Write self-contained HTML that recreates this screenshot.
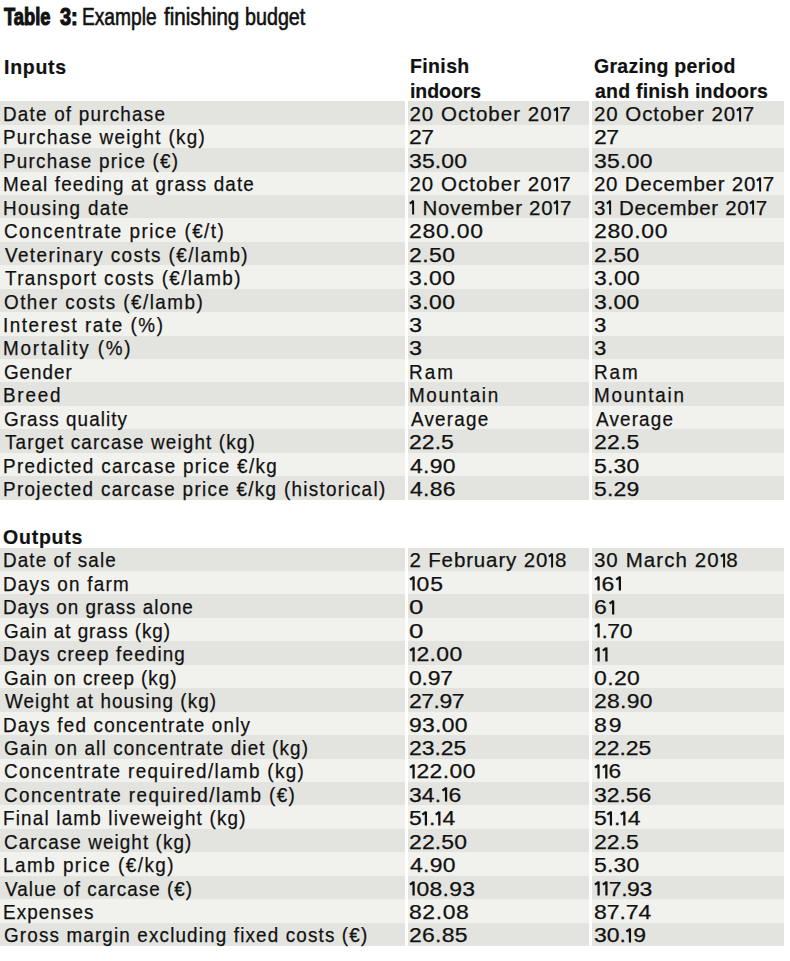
<!DOCTYPE html>
<html><head><meta charset="utf-8"><style>
html,body{margin:0;padding:0;background:#fff;}
body{position:relative;overflow:hidden;font-family:"Liberation Sans",sans-serif;font-size:20.5px;color:#111;}
.t{position:absolute;white-space:nowrap;transform-origin:0 0;line-height:normal;-webkit-text-stroke:0.25px #111;}
.t.h{-webkit-text-stroke:0.2px #111;}
.t.ti{-webkit-text-stroke:0.6px #111;}
.t.tb{-webkit-text-stroke:1.1px #111;}
.t svg.one{vertical-align:baseline;overflow:visible;}
.r{position:absolute;left:0;width:784px;}
.g{position:absolute;top:0;width:3px;height:961px;background:#fff;}
body{width:790px;height:961px;}
</style></head><body>
<div class="r" style="top:101.20px;height:23.50px;background:#e3e4df"></div><div class="r" style="top:124.64px;height:23.50px;background:#f1f1ee"></div><div class="r" style="top:148.08px;height:23.50px;background:#e3e4df"></div><div class="r" style="top:171.52px;height:23.50px;background:#f1f1ee"></div><div class="r" style="top:194.96px;height:23.50px;background:#e3e4df"></div><div class="r" style="top:218.40px;height:23.50px;background:#f1f1ee"></div><div class="r" style="top:241.84px;height:23.50px;background:#e3e4df"></div><div class="r" style="top:265.28px;height:23.50px;background:#f1f1ee"></div><div class="r" style="top:288.72px;height:23.50px;background:#e3e4df"></div><div class="r" style="top:312.16px;height:23.50px;background:#f1f1ee"></div><div class="r" style="top:335.60px;height:23.50px;background:#e3e4df"></div><div class="r" style="top:359.04px;height:23.50px;background:#f1f1ee"></div><div class="r" style="top:382.48px;height:23.50px;background:#e3e4df"></div><div class="r" style="top:405.92px;height:23.50px;background:#f1f1ee"></div><div class="r" style="top:429.36px;height:23.50px;background:#e3e4df"></div><div class="r" style="top:452.80px;height:23.50px;background:#f1f1ee"></div><div class="r" style="top:476.24px;height:23.50px;background:#e3e4df"></div><div class="r" style="top:547.60px;height:23.50px;background:#e3e4df"></div><div class="r" style="top:571.04px;height:23.50px;background:#f1f1ee"></div><div class="r" style="top:594.48px;height:23.50px;background:#e3e4df"></div><div class="r" style="top:617.92px;height:23.50px;background:#f1f1ee"></div><div class="r" style="top:641.36px;height:23.50px;background:#e3e4df"></div><div class="r" style="top:664.80px;height:23.50px;background:#f1f1ee"></div><div class="r" style="top:688.24px;height:23.50px;background:#e3e4df"></div><div class="r" style="top:711.68px;height:23.50px;background:#f1f1ee"></div><div class="r" style="top:735.12px;height:23.50px;background:#e3e4df"></div><div class="r" style="top:758.56px;height:23.50px;background:#f1f1ee"></div><div class="r" style="top:782.00px;height:23.50px;background:#e3e4df"></div><div class="r" style="top:805.44px;height:23.50px;background:#f1f1ee"></div><div class="r" style="top:828.88px;height:23.50px;background:#e3e4df"></div><div class="r" style="top:852.32px;height:23.50px;background:#f1f1ee"></div><div class="r" style="top:875.76px;height:23.50px;background:#e3e4df"></div><div class="r" style="top:899.20px;height:23.50px;background:#f1f1ee"></div><div class="r" style="top:922.64px;height:23.50px;background:#e3e4df"></div>
<div class="g" style="left:405px"></div>
<div class="g" style="left:589px"></div>
<div class="t" style="left:2.96px;top:102.05px;transform:scaleX(0.9200);letter-spacing:1.322px;">Date of purchase</div><div class="t" style="left:409.40px;top:102.05px;transform:scaleX(1.0000);letter-spacing:1.023px;">20 October 20<svg class="one" width="6.6" height="14.4" viewBox="0 0 6.6 14.4"><path d="M4.1 0.4V14.4M4.3 0.9L0.9 3.6" stroke="currentColor" stroke-width="2.0" fill="none"/></svg>7</div><div class="t" style="left:593.90px;top:102.05px;transform:scaleX(1.0000);letter-spacing:0.954px;">20 October 20<svg class="one" width="6.6" height="14.4" viewBox="0 0 6.6 14.4"><path d="M4.1 0.4V14.4M4.3 0.9L0.9 3.6" stroke="currentColor" stroke-width="2.0" fill="none"/></svg>7</div><div class="t" style="left:2.96px;top:125.49px;transform:scaleX(0.9200);letter-spacing:1.408px;">Purchase weight (kg)</div><div class="t" style="left:409.28px;top:125.49px;transform:scaleX(1.1200);letter-spacing:-0.464px;">27</div><div class="t" style="left:593.78px;top:125.49px;transform:scaleX(1.1200);letter-spacing:-0.554px;">27</div><div class="t" style="left:2.96px;top:148.93px;transform:scaleX(0.9200);letter-spacing:1.344px;">Purchase price (€)</div><div class="t" style="left:409.28px;top:148.93px;transform:scaleX(1.1200);letter-spacing:0.134px;">35.00</div><div class="t" style="left:593.78px;top:148.93px;transform:scaleX(1.1200);letter-spacing:0.246px;">35.00</div><div class="t" style="left:2.96px;top:172.37px;transform:scaleX(0.9200);letter-spacing:1.240px;">Meal feeding at grass date</div><div class="t" style="left:409.40px;top:172.37px;transform:scaleX(1.0000);letter-spacing:1.023px;">20 October 20<svg class="one" width="6.6" height="14.4" viewBox="0 0 6.6 14.4"><path d="M4.1 0.4V14.4M4.3 0.9L0.9 3.6" stroke="currentColor" stroke-width="2.0" fill="none"/></svg>7</div><div class="t" style="left:593.90px;top:172.37px;transform:scaleX(1.0000);letter-spacing:0.757px;">20 December 20<svg class="one" width="6.6" height="14.4" viewBox="0 0 6.6 14.4"><path d="M4.1 0.4V14.4M4.3 0.9L0.9 3.6" stroke="currentColor" stroke-width="2.0" fill="none"/></svg>7</div><div class="t" style="left:2.96px;top:195.81px;transform:scaleX(0.9200);letter-spacing:1.427px;">Housing date</div><div class="t" style="left:409.40px;top:195.81px;transform:scaleX(1.0000);letter-spacing:0.717px;"><svg class="one" width="6.6" height="14.4" viewBox="0 0 6.6 14.4"><path d="M4.1 0.4V14.4M4.3 0.9L0.9 3.6" stroke="currentColor" stroke-width="2.0" fill="none"/></svg> November 20<svg class="one" width="6.6" height="14.4" viewBox="0 0 6.6 14.4"><path d="M4.1 0.4V14.4M4.3 0.9L0.9 3.6" stroke="currentColor" stroke-width="2.0" fill="none"/></svg>7</div><div class="t" style="left:593.90px;top:195.81px;transform:scaleX(1.0000);letter-spacing:0.662px;">3<svg class="one" width="6.6" height="14.4" viewBox="0 0 6.6 14.4"><path d="M4.1 0.4V14.4M4.3 0.9L0.9 3.6" stroke="currentColor" stroke-width="2.0" fill="none"/></svg> December 20<svg class="one" width="6.6" height="14.4" viewBox="0 0 6.6 14.4"><path d="M4.1 0.4V14.4M4.3 0.9L0.9 3.6" stroke="currentColor" stroke-width="2.0" fill="none"/></svg>7</div><div class="t" style="left:3.88px;top:219.25px;transform:scaleX(0.9200);letter-spacing:1.589px;">Concentrate price (€/t)</div><div class="t" style="left:409.28px;top:219.25px;transform:scaleX(1.1200);letter-spacing:0.657px;">280.00</div><div class="t" style="left:593.78px;top:219.25px;transform:scaleX(1.1200);letter-spacing:0.586px;">280.00</div><div class="t" style="left:4.80px;top:242.69px;transform:scaleX(0.9200);letter-spacing:1.543px;">Veterinary costs (€/lamb)</div><div class="t" style="left:409.28px;top:242.69px;transform:scaleX(1.1200);letter-spacing:0.399px;">2.50</div><div class="t" style="left:593.78px;top:242.69px;transform:scaleX(1.1200);letter-spacing:0.190px;">2.50</div><div class="t" style="left:4.80px;top:266.13px;transform:scaleX(0.9200);letter-spacing:1.503px;">Transport costs (€/lamb)</div><div class="t" style="left:409.28px;top:266.13px;transform:scaleX(1.1200);letter-spacing:0.399px;">3.00</div><div class="t" style="left:593.78px;top:266.13px;transform:scaleX(1.1200);letter-spacing:0.339px;">3.00</div><div class="t" style="left:3.88px;top:289.57px;transform:scaleX(0.9200);letter-spacing:1.593px;">Other costs (€/lamb)</div><div class="t" style="left:409.28px;top:289.57px;transform:scaleX(1.1200);letter-spacing:0.399px;">3.00</div><div class="t" style="left:593.78px;top:289.57px;transform:scaleX(1.1200);letter-spacing:0.190px;">3.00</div><div class="t" style="left:2.96px;top:313.01px;transform:scaleX(0.9200);letter-spacing:1.679px;">Interest rate (%)</div><div class="t" style="left:409.26px;top:313.01px;transform:scaleX(1.1400);">3</div><div class="t" style="left:593.82px;top:313.01px;transform:scaleX(1.0800);">3</div><div class="t" style="left:2.96px;top:336.45px;transform:scaleX(0.9200);letter-spacing:1.971px;">Mortality (%)</div><div class="t" style="left:409.26px;top:336.45px;transform:scaleX(1.1400);">3</div><div class="t" style="left:593.82px;top:336.45px;transform:scaleX(1.0800);">3</div><div class="t" style="left:3.88px;top:359.89px;transform:scaleX(0.9200);letter-spacing:1.035px;">Gender</div><div class="t" style="left:409.16px;top:359.89px;transform:scaleX(0.9200);letter-spacing:2.228px;">Ram</div><div class="t" style="left:593.66px;top:359.89px;transform:scaleX(0.9200);letter-spacing:2.065px;">Ram</div><div class="t" style="left:2.96px;top:383.33px;transform:scaleX(0.9200);letter-spacing:1.951px;">Breed</div><div class="t" style="left:409.16px;top:383.33px;transform:scaleX(0.9200);letter-spacing:1.798px;">Mountain</div><div class="t" style="left:593.66px;top:383.33px;transform:scaleX(0.9200);letter-spacing:1.922px;">Mountain</div><div class="t" style="left:3.88px;top:406.77px;transform:scaleX(0.9200);letter-spacing:1.170px;">Grass quality</div><div class="t" style="left:411.00px;top:406.77px;transform:scaleX(0.9200);letter-spacing:1.322px;">Average</div><div class="t" style="left:595.50px;top:406.77px;transform:scaleX(0.9200);letter-spacing:1.268px;">Average</div><div class="t" style="left:4.80px;top:430.21px;transform:scaleX(0.9200);letter-spacing:1.244px;">Target carcase weight (kg)</div><div class="t" style="left:409.28px;top:430.21px;transform:scaleX(1.1200);letter-spacing:0.042px;">22.5</div><div class="t" style="left:593.78px;top:430.21px;transform:scaleX(1.1200);letter-spacing:0.190px;">22.5</div><div class="t" style="left:2.96px;top:453.65px;transform:scaleX(0.9200);letter-spacing:1.440px;">Predicted carcase price €/kg</div><div class="t" style="left:410.40px;top:453.65px;transform:scaleX(1.1200);letter-spacing:0.274px;">4.90</div><div class="t" style="left:593.78px;top:453.65px;transform:scaleX(1.1200);letter-spacing:0.190px;">5.30</div><div class="t" style="left:2.96px;top:477.09px;transform:scaleX(0.9200);letter-spacing:1.413px;">Projected carcase price €/kg (historical)</div><div class="t" style="left:410.40px;top:477.09px;transform:scaleX(1.1200);letter-spacing:0.274px;">4.86</div><div class="t" style="left:593.78px;top:477.09px;transform:scaleX(1.1200);letter-spacing:0.190px;">5.29</div><div class="t" style="left:2.96px;top:548.45px;transform:scaleX(0.9200);letter-spacing:1.192px;">Date of sale</div><div class="t" style="left:409.40px;top:548.45px;transform:scaleX(1.0000);letter-spacing:0.869px;">2 February 20<svg class="one" width="6.6" height="14.4" viewBox="0 0 6.6 14.4"><path d="M4.1 0.4V14.4M4.3 0.9L0.9 3.6" stroke="currentColor" stroke-width="2.0" fill="none"/></svg>8</div><div class="t" style="left:593.90px;top:548.45px;transform:scaleX(1.0000);letter-spacing:1.082px;">30 March 20<svg class="one" width="6.6" height="14.4" viewBox="0 0 6.6 14.4"><path d="M4.1 0.4V14.4M4.3 0.9L0.9 3.6" stroke="currentColor" stroke-width="2.0" fill="none"/></svg>8</div><div class="t" style="left:2.96px;top:571.89px;transform:scaleX(0.9200);letter-spacing:1.336px;">Days on farm</div><div class="t" style="left:409.28px;top:571.89px;transform:scaleX(1.1200);letter-spacing:0.929px;"><svg class="one" width="6.6" height="14.4" viewBox="0 0 6.6 14.4"><path d="M4.1 0.4V14.4M4.3 0.9L0.9 3.6" stroke="currentColor" stroke-width="2.0" fill="none"/></svg>05</div><div class="t" style="left:593.78px;top:571.89px;transform:scaleX(1.1200);letter-spacing:1.214px;"><svg class="one" width="6.6" height="14.4" viewBox="0 0 6.6 14.4"><path d="M4.1 0.4V14.4M4.3 0.9L0.9 3.6" stroke="currentColor" stroke-width="2.0" fill="none"/></svg>6<svg class="one" width="6.6" height="14.4" viewBox="0 0 6.6 14.4"><path d="M4.1 0.4V14.4M4.3 0.9L0.9 3.6" stroke="currentColor" stroke-width="2.0" fill="none"/></svg></div><div class="t" style="left:2.96px;top:595.33px;transform:scaleX(0.9200);letter-spacing:1.082px;">Days on grass alone</div><div class="t" style="left:409.14px;top:595.33px;transform:scaleX(1.2600);">0</div><div class="t" style="left:593.78px;top:595.33px;transform:scaleX(1.1200);letter-spacing:2.054px;">6<svg class="one" width="6.6" height="14.4" viewBox="0 0 6.6 14.4"><path d="M4.1 0.4V14.4M4.3 0.9L0.9 3.6" stroke="currentColor" stroke-width="2.0" fill="none"/></svg></div><div class="t" style="left:3.88px;top:618.77px;transform:scaleX(0.9200);letter-spacing:1.035px;">Gain at grass (kg)</div><div class="t" style="left:409.14px;top:618.77px;transform:scaleX(1.2600);">0</div><div class="t" style="left:593.78px;top:618.77px;transform:scaleX(1.1200);letter-spacing:-0.384px;"><svg class="one" width="6.6" height="14.4" viewBox="0 0 6.6 14.4"><path d="M4.1 0.4V14.4M4.3 0.9L0.9 3.6" stroke="currentColor" stroke-width="2.0" fill="none"/></svg>.70</div><div class="t" style="left:2.96px;top:642.21px;transform:scaleX(0.9200);letter-spacing:1.235px;">Days creep feeding</div><div class="t" style="left:409.28px;top:642.21px;transform:scaleX(1.1200);letter-spacing:0.357px;"><svg class="one" width="6.6" height="14.4" viewBox="0 0 6.6 14.4"><path d="M4.1 0.4V14.4M4.3 0.9L0.9 3.6" stroke="currentColor" stroke-width="2.0" fill="none"/></svg>2.00</div><div class="t" style="left:593.78px;top:642.21px;transform:scaleX(1.1182);"><svg class="one" width="6.6" height="14.4" viewBox="0 0 6.6 14.4"><path d="M4.1 0.4V14.4M4.3 0.9L0.9 3.6" stroke="currentColor" stroke-width="2.0" fill="none"/></svg><svg class="one" width="6.6" height="14.4" viewBox="0 0 6.6 14.4"><path d="M4.1 0.4V14.4M4.3 0.9L0.9 3.6" stroke="currentColor" stroke-width="2.0" fill="none"/></svg></div><div class="t" style="left:3.88px;top:665.65px;transform:scaleX(0.9200);letter-spacing:1.038px;">Gain on creep (kg)</div><div class="t" style="left:409.28px;top:665.65px;transform:scaleX(1.1200);letter-spacing:-0.167px;">0.97</div><div class="t" style="left:593.78px;top:665.65px;transform:scaleX(1.1200);letter-spacing:0.339px;">0.20</div><div class="t" style="left:4.80px;top:689.09px;transform:scaleX(0.9200);letter-spacing:1.176px;">Weight at housing (kg)</div><div class="t" style="left:409.28px;top:689.09px;transform:scaleX(1.1200);letter-spacing:-0.446px;">27.97</div><div class="t" style="left:593.78px;top:689.09px;transform:scaleX(1.1200);letter-spacing:0.246px;">28.90</div><div class="t" style="left:2.96px;top:712.53px;transform:scaleX(0.9200);letter-spacing:1.313px;">Days fed concentrate only</div><div class="t" style="left:409.28px;top:712.53px;transform:scaleX(1.1200);letter-spacing:0.246px;">93.00</div><div class="t" style="left:593.78px;top:712.53px;transform:scaleX(1.1200);letter-spacing:1.768px;">89</div><div class="t" style="left:3.88px;top:735.97px;transform:scaleX(0.9200);letter-spacing:1.245px;">Gain on all concentrate diet (kg)</div><div class="t" style="left:409.28px;top:735.97px;transform:scaleX(1.1200);letter-spacing:-0.022px;">23.25</div><div class="t" style="left:593.78px;top:735.97px;transform:scaleX(1.1200);letter-spacing:-0.022px;">22.25</div><div class="t" style="left:3.88px;top:759.41px;transform:scaleX(0.9200);letter-spacing:1.453px;">Concentrate required/lamb (kg)</div><div class="t" style="left:409.28px;top:759.41px;transform:scaleX(1.1200);letter-spacing:0.353px;"><svg class="one" width="6.6" height="14.4" viewBox="0 0 6.6 14.4"><path d="M4.1 0.4V14.4M4.3 0.9L0.9 3.6" stroke="currentColor" stroke-width="2.0" fill="none"/></svg>22.00</div><div class="t" style="left:593.79px;top:759.41px;transform:scaleX(1.1087);"><svg class="one" width="6.6" height="14.4" viewBox="0 0 6.6 14.4"><path d="M4.1 0.4V14.4M4.3 0.9L0.9 3.6" stroke="currentColor" stroke-width="2.0" fill="none"/></svg><svg class="one" width="6.6" height="14.4" viewBox="0 0 6.6 14.4"><path d="M4.1 0.4V14.4M4.3 0.9L0.9 3.6" stroke="currentColor" stroke-width="2.0" fill="none"/></svg>6</div><div class="t" style="left:3.88px;top:782.85px;transform:scaleX(0.9200);letter-spacing:1.525px;">Concentrate required/lamb (€)</div><div class="t" style="left:409.28px;top:782.85px;transform:scaleX(1.1200);letter-spacing:0.060px;">34.<svg class="one" width="6.6" height="14.4" viewBox="0 0 6.6 14.4"><path d="M4.1 0.4V14.4M4.3 0.9L0.9 3.6" stroke="currentColor" stroke-width="2.0" fill="none"/></svg>6</div><div class="t" style="left:593.78px;top:782.85px;transform:scaleX(1.1200);letter-spacing:-0.022px;">32.56</div><div class="t" style="left:2.96px;top:806.29px;transform:scaleX(0.9200);letter-spacing:1.293px;">Final lamb liveweight (kg)</div><div class="t" style="left:409.28px;top:806.29px;transform:scaleX(1.1200);letter-spacing:-0.179px;">5<svg class="one" width="6.6" height="14.4" viewBox="0 0 6.6 14.4"><path d="M4.1 0.4V14.4M4.3 0.9L0.9 3.6" stroke="currentColor" stroke-width="2.0" fill="none"/></svg>.<svg class="one" width="6.6" height="14.4" viewBox="0 0 6.6 14.4"><path d="M4.1 0.4V14.4M4.3 0.9L0.9 3.6" stroke="currentColor" stroke-width="2.0" fill="none"/></svg>4</div><div class="t" style="left:593.78px;top:806.29px;transform:scaleX(1.1200);letter-spacing:-0.134px;">5<svg class="one" width="6.6" height="14.4" viewBox="0 0 6.6 14.4"><path d="M4.1 0.4V14.4M4.3 0.9L0.9 3.6" stroke="currentColor" stroke-width="2.0" fill="none"/></svg>.<svg class="one" width="6.6" height="14.4" viewBox="0 0 6.6 14.4"><path d="M4.1 0.4V14.4M4.3 0.9L0.9 3.6" stroke="currentColor" stroke-width="2.0" fill="none"/></svg>4</div><div class="t" style="left:3.88px;top:829.73px;transform:scaleX(0.9200);letter-spacing:1.184px;">Carcase weight (kg)</div><div class="t" style="left:409.28px;top:829.73px;transform:scaleX(1.1200);letter-spacing:0.134px;">22.50</div><div class="t" style="left:593.78px;top:829.73px;transform:scaleX(1.1200);letter-spacing:0.042px;">22.5</div><div class="t" style="left:2.96px;top:853.17px;transform:scaleX(0.9200);letter-spacing:1.622px;">Lamb price (€/kg)</div><div class="t" style="left:410.40px;top:853.17px;transform:scaleX(1.1200);letter-spacing:0.274px;">4.90</div><div class="t" style="left:593.78px;top:853.17px;transform:scaleX(1.1200);letter-spacing:0.190px;">5.30</div><div class="t" style="left:4.80px;top:876.61px;transform:scaleX(0.9200);letter-spacing:1.126px;">Value of carcase (€)</div><div class="t" style="left:409.28px;top:876.61px;transform:scaleX(1.1200);letter-spacing:0.263px;"><svg class="one" width="6.6" height="14.4" viewBox="0 0 6.6 14.4"><path d="M4.1 0.4V14.4M4.3 0.9L0.9 3.6" stroke="currentColor" stroke-width="2.0" fill="none"/></svg>08.93</div><div class="t" style="left:593.78px;top:876.61px;transform:scaleX(1.1200);letter-spacing:-0.363px;"><svg class="one" width="6.6" height="14.4" viewBox="0 0 6.6 14.4"><path d="M4.1 0.4V14.4M4.3 0.9L0.9 3.6" stroke="currentColor" stroke-width="2.0" fill="none"/></svg><svg class="one" width="6.6" height="14.4" viewBox="0 0 6.6 14.4"><path d="M4.1 0.4V14.4M4.3 0.9L0.9 3.6" stroke="currentColor" stroke-width="2.0" fill="none"/></svg>7.93</div><div class="t" style="left:2.96px;top:900.05px;transform:scaleX(0.9200);letter-spacing:1.174px;">Expenses</div><div class="t" style="left:409.28px;top:900.05px;transform:scaleX(1.1200);letter-spacing:0.513px;">82.08</div><div class="t" style="left:593.78px;top:900.05px;transform:scaleX(1.1200);letter-spacing:-0.022px;">87.74</div><div class="t" style="left:3.88px;top:923.49px;transform:scaleX(0.9200);letter-spacing:1.248px;">Gross margin excluding fixed costs (€)</div><div class="t" style="left:409.28px;top:923.49px;transform:scaleX(1.1200);letter-spacing:0.246px;">26.85</div><div class="t" style="left:593.78px;top:923.49px;transform:scaleX(1.1200);letter-spacing:-0.030px;">30.<svg class="one" width="6.6" height="14.4" viewBox="0 0 6.6 14.4"><path d="M4.1 0.4V14.4M4.3 0.9L0.9 3.6" stroke="currentColor" stroke-width="2.0" fill="none"/></svg>9</div><div class="t h" style="left:3.65px;top:54.75px;transform:scaleX(0.9500);letter-spacing:0.779px;font-weight:bold;">Inputs</div><div class="t h" style="left:410.45px;top:54.25px;transform:scaleX(0.9500);letter-spacing:0.400px;font-weight:bold;">Finish</div><div class="t h" style="left:410.45px;top:78.75px;transform:scaleX(0.9500);letter-spacing:-0.044px;font-weight:bold;">indoors</div><div class="t h" style="left:594.15px;top:54.25px;transform:scaleX(0.9500);letter-spacing:0.320px;font-weight:bold;">Grazing period</div><div class="t h" style="left:594.65px;top:78.75px;transform:scaleX(0.9500);letter-spacing:0.248px;font-weight:bold;">and finish indoors</div><div class="t h" style="left:3.15px;top:524.85px;transform:scaleX(0.9500);letter-spacing:0.833px;font-weight:bold;">Outputs</div><div class="t tb" style="left:4.40px;top:3.88px;transform:scaleX(0.7966);font-weight:bold;font-size:23px;">Table</div><div class="t tb" style="left:59.50px;top:3.88px;transform:scaleX(0.8684);font-weight:bold;font-size:23px;">3:</div><div class="t ti" style="left:82.33px;top:3.98px;transform:scaleX(0.8333);font-size:23px;">Example</div><div class="t ti" style="left:164.00px;top:3.98px;transform:scaleX(0.8916);font-size:23px;">finishing</div><div class="t ti" style="left:244.84px;top:3.98px;transform:scaleX(0.8571);font-size:23px;">budget</div>
</body></html>
